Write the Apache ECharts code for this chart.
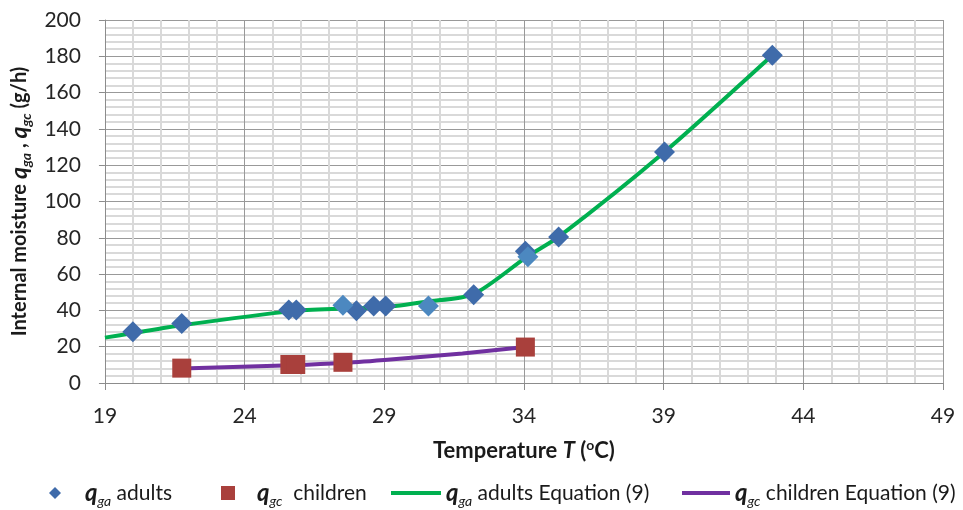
<!DOCTYPE html>
<html>
<head>
<meta charset="utf-8">
<script src="https://cdn.jsdelivr.net/npm/echarts@6/dist/echarts.min.js"></script>
<style>html,body{margin:0;padding:0;background:#fff}#c{width:963px;height:510px}</style>
</head>
<body>
<div id="c"></div>
<script>
// Measured adults (dark diamonds)
const adultsT = [20.0, 21.75, 25.58, 25.85, 28.0, 28.62, 29.05, 32.2, 34.05, 35.24, 39.03, 42.89];
const adultsQ = [28.3, 32.8, 40.2, 40.2, 39.8, 42.4, 42.4, 48.6, 72.6, 80.5, 127.3, 180.6];
// Measured adults (lighter diamonds)
const adults2T = [27.52, 30.58, 34.14];
const adults2Q = [42.8, 42.4, 69.5];
// Measured children
const childT = [21.75, 25.62, 25.83, 27.52, 34.05];
const childQ = [8.2, 10.2, 10.2, 11.4, 19.8];
// Equation (9) curves
const eqAdultT = [19, 20, 21.75, 25.7, 27.5, 29, 30.5, 32.2, 34.1, 35.24, 39.03, 42.89];
const eqAdultQ = [25, 27.5, 31.8, 39.6, 41.0, 41.8, 44.8, 49.0, 69.5, 80.5, 127.3, 180.6];
const eqChildT = [21.75, 25.7, 27.52, 29, 31.8, 34.05];
const eqChildQ = [8.0, 9.8, 11.0, 12.7, 16.3, 19.8];
// Axis ticks
const xTicks = [19, 24, 29, 34, 39, 44, 49];
const yTicks = [0, 20, 40, 60, 80, 100, 120, 140, 160, 180, 200];

const pairs = (a, b) => a.map((v, i) => [v, b[i]]);
const FONT = 'Lato';
const TXT = '#1a1a1a';
const legendRich = {
  g: {width: 19},
  h: {width: 17},
  q: {fontSize: 24, fontStyle: 'italic', fontWeight: 'bold', fontFamily: FONT, color: TXT},
  s: {fontSize: 14, fontStyle: 'italic', fontFamily: FONT, color: TXT, padding: [16, 0, 0, 0]},
  n: {fontSize: 21, fontFamily: FONT, color: TXT}
};
const legendLabels = {
  'adults': '{g|}{q|q}{s|ga}{n| adults}',
  'children': '{h|}{q|q}{s|gc}{n|  children}',
  'adultsEq': '{q|q}{s|ga}{n| adults Equation (9)}',
  'childrenEq': '{q|q}{s|gc}{n| children Equation (9)}'
};
function mkLegend(name, left, icon, w, h) {
  return {
    data: [{name: name, icon: icon}], left: left, top: 481, padding: 0, itemWidth: w, itemHeight: h, itemGap: 5,
    formatter: n => legendLabels[n],
    textStyle: {rich: legendRich, fontFamily: FONT, fontSize: 21},
    lineStyle: {width: 0}, itemStyle: {borderWidth: 0},
    selectedMode: false
  };
}

const chart = echarts.init(document.getElementById('c'), null, {renderer: 'canvas'});
chart.setOption({
  animation: false,
  backgroundColor: '#fff',
  grid: {left: 101, right: 20, top: 20, bottom: 127, containLabel: false},
  legend: [
    mkLegend('adults', 49, 'diamond', 12, 12),
    mkLegend('children', 221, 'rect', 14, 14),
    mkLegend('adultsEq', 391, 'rect', 50, 4),
    mkLegend('childrenEq', 682, 'rect', 48, 4)
  ],
  xAxis: {
    type: 'value', min: xTicks[0], max: xTicks[xTicks.length - 1], interval: 5,
    axisLine: {show: true, lineStyle: {color: '#8c8c8c', width: 1}},
    axisTick: {show: true, length: 7, lineStyle: {color: '#8c8c8c'}},
    axisLabel: {fontFamily: FONT, fontSize: 21, color: '#262626', margin: 23},
    splitLine: {show: true, lineStyle: {color: '#999999', width: 1}},
    minorTick: {show: false, splitNumber: 5},
    minorSplitLine: {show: true, lineStyle: {color: '#d9d9d9', width: 2}},
    name: '{b|Temperature }{t|T}{b| (}{o|o}{b|C)}',
    nameLocation: 'middle', nameGap: 55,
    nameTextStyle: {rich: {
      b: {fontSize: 22, fontWeight: 'bold', fontFamily: FONT, color: TXT},
      t: {fontSize: 22, fontWeight: 'bold', fontStyle: 'italic', fontFamily: FONT, color: TXT},
      o: {fontSize: 14, fontWeight: 'bold', fontFamily: FONT, color: TXT, padding: [0, 0, 11, 0]}
    }}
  },
  yAxis: {
    type: 'value', min: yTicks[0], max: yTicks[yTicks.length - 1], interval: 20,
    axisLine: {show: true, lineStyle: {color: '#8c8c8c', width: 1}},
    axisTick: {show: true, length: 6, lineStyle: {color: '#8c8c8c'}},
    axisLabel: {fontFamily: FONT, fontSize: 21, color: '#262626', margin: 24},
    splitLine: {show: true, lineStyle: {color: '#999999', width: 1}},
    minorTick: {show: false, splitNumber: 5},
    minorSplitLine: {show: true, lineStyle: {color: '#d9d9d9', width: 2}},
    name: '{b|Internal moisture }{q|q}{s|ga}{b| , }{q|q}{s|gc}{b| (g/h)}',
    nameLocation: 'middle', nameGap: 67, nameRotate: 90,
    nameTextStyle: {rich: {
      b: {fontSize: 20, fontWeight: 'bold', fontFamily: FONT, color: TXT},
      q: {fontSize: 23, fontWeight: 'bold', fontStyle: 'italic', fontFamily: FONT, color: TXT},
      s: {fontSize: 14, fontWeight: 'bold', fontStyle: 'italic', fontFamily: FONT, color: TXT, padding: [14, 0, 0, 0]}
    }}
  },
  series: [
    {name: 'adultsEq', type: 'line', data: pairs(eqAdultT, eqAdultQ), smooth: 0.25, showSymbol: false, symbol: 'none',
     lineStyle: {color: '#00B050', width: 4}, itemStyle: {color: '#00B050'}, z: 2},
    {name: 'childrenEq', type: 'line', data: pairs(eqChildT, eqChildQ), smooth: 0.25, showSymbol: false, symbol: 'none',
     lineStyle: {color: '#7030A0', width: 4}, itemStyle: {color: '#7030A0'}, z: 2},
    {name: 'adults', type: 'scatter', data: pairs(adultsT, adultsQ), symbol: 'diamond', symbolSize: 21,
     itemStyle: {color: '#3F6BAA', opacity: 1}, z: 4},
    {name: 'adults', type: 'scatter', data: pairs(adults2T, adults2Q), symbol: 'diamond', symbolSize: 21,
     itemStyle: {color: '#4C88C0', opacity: 1}, z: 5},
    {name: 'children', type: 'scatter', data: pairs(childT, childQ), symbol: 'rect', symbolSize: 19,
     itemStyle: {color: '#A9403C', opacity: 1}, z: 4}
  ]
});
</script>
</body>
</html>
